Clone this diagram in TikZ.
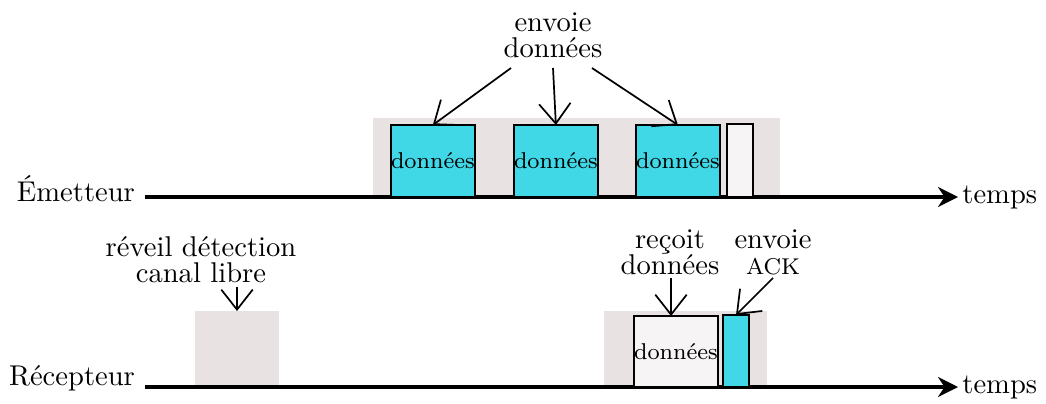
\documentclass[tikz,border=0pt]{standalone}
\usepackage{tikz}
\usetikzlibrary{positioning, arrows.meta}

\definecolor{pktcyan}{RGB}{64,216,230}
\definecolor{slotgray}{RGB}{232,226,226}
\definecolor{pktwhite}{RGB}{246,244,245}

\tikzset{
  pkt/.style={draw, thick, fill=pktcyan, inner sep=0pt, outer sep=0pt, anchor=south west, font=\footnotesize},
  pktw/.style={pkt, fill=pktwhite},
  axis/.style={line width=1.1pt, -{Stealth[length=7pt, width=7pt]}},
  lbl/.style={align=center},
  ptr/.style={semithick, -{Straight Barb[length=7pt, width=11pt]}}
}

\begin{document}
\begin{tikzpicture}[x=0.0123cm, y=-0.0123cm]
  \useasboundingbox (0,0) rectangle (1046,403);

  % sender
  \fill[slotgray] (373,118) rectangle (780,197);
  \coordinate (E0) at (145,197);
  \coordinate (E1) at (958,197);
  \draw[axis] (E0) -- (E1);
  \node[left=0pt of E0, yshift=3pt] (em) {Émetteur};
  \node[right=-2pt of E1] (tE) {temps};

  \node[pkt, minimum width=0.98cm, minimum height=0.886cm] (d1) at (391,197) {données};
  \node[pkt, minimum width=0.98cm, minimum height=0.886cm] (d2) at (514,197) {données};
  \node[pkt, minimum width=0.98cm, minimum height=0.886cm] (d3) at (636,197) {données};
  \node[pktw, minimum width=0.32cm, minimum height=0.898cm] (w1) at (727,197) {};

  \node[lbl] (send) at (553,35) {envoie\\[-3pt]données};
  \coordinate (s1) at (511,68);
  \coordinate (s2) at (553,68);
  \coordinate (s3) at (592,68);
  \draw[ptr] (s1) -- (d1.north);
  \draw[ptr] (s2) -- (d2.north);
  \draw[ptr] (s3) -- (d3.north);

  % receiver
  \fill[slotgray] (195,311) rectangle (279,387);
  \fill[slotgray] (604,311) rectangle (767,387);
  \coordinate (R0) at (145,387);
  \coordinate (R1) at (958,387);
  \draw[axis] (R0) -- (R1);
  \node[left=0pt of R0, yshift=3pt] (rc) {Récepteur};
  \node[right=-2pt of R1] (tR) {temps};

  \node[pktw, minimum width=0.98cm, minimum height=0.873cm] (rx) at (634,387) {données};
  \node[pkt, minimum width=0.32cm, minimum height=0.886cm] (ack) at (723,387) {};

  \node[lbl] (wake) at (201,260) {réveil détection\\[-3pt]canal libre};
  \coordinate (w0) at (237,287);
  \coordinate (wt) at (237,311);
  \draw[ptr] (w0) -- (wt);

  \node[lbl] (recv) at (670,252) {reçoit\\[-3pt]données};
  \coordinate (r0) at (671,278);
  \draw[ptr] (r0) -- (rx.north -| r0);

  \node[lbl] (sack) at (773,252) {envoie\\[-3pt]{\footnotesize ACK}};
  \coordinate (a0) at (773,278);
  \draw[ptr] (a0) -- (ack.north);
\end{tikzpicture}
\end{document}
